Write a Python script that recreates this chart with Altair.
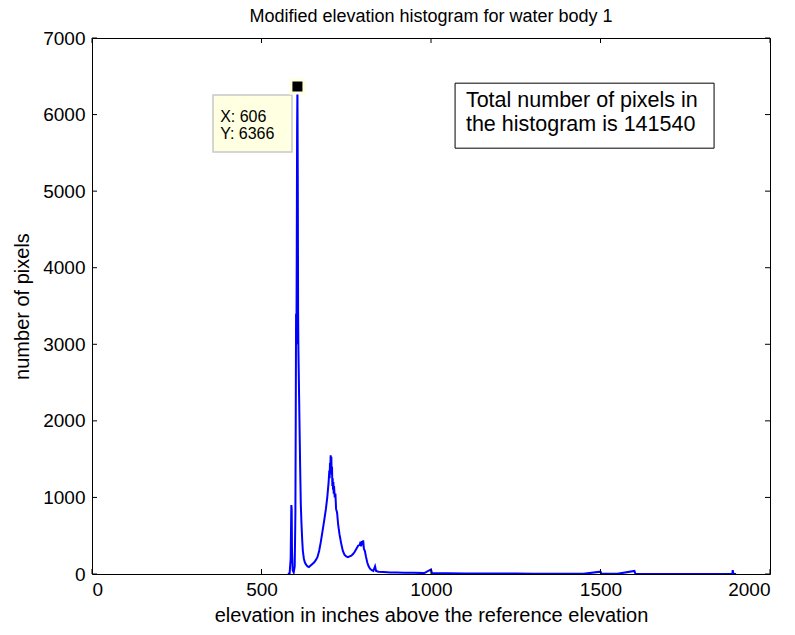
import altair as alt
import pandas as pd

# histogram key points
elev = [578, 583, 586, 588, 589, 590, 592, 595, 598, 600, 601, 602, 603, 604, 605, 606,
        607, 608, 609, 610, 611, 612, 613, 614, 615, 616, 618, 620, 622, 625, 628, 632,
        636, 640, 645, 650, 655, 660, 665, 670, 675, 680, 685, 690, 694, 697, 698, 700,
        701, 702, 703, 704, 705, 706, 707, 708, 709, 710, 711, 712, 713, 714, 716, 718,
        720, 723, 726, 730, 735, 740, 745, 750, 755, 760, 765, 770, 775, 780, 785, 790,
        792, 794, 796, 798, 800, 802, 805, 808, 812, 816,
        820, 825, 830, 835, 838, 845, 860, 880, 900, 920, 950, 980, 1000, 1003, 1050,
        1100, 1150, 1200, 1250, 1300, 1350, 1400, 1450, 1500, 1503, 1550, 1600, 1603,
        1650, 1700, 1800, 1889, 1890, 1892, 1900]
counts = [0, 10, 200, 900, 850, 300, 50, 20, 100, 800, 2000, 3400, 3000, 4200, 5800, 6366,
          5200, 3400, 2900, 2600, 2300, 2000, 1700, 1400, 1150, 900, 650, 450, 300, 200, 150, 120,
          100, 90, 110, 130, 150, 180, 220, 300, 420, 560, 700, 850, 1000, 1150, 1200, 1350,
          1250, 1450, 1400, 1550, 1480, 1530, 1300, 1400, 1150, 1250, 1100, 1200, 1050, 1150, 1000, 1050,
          850, 800, 650, 520, 400, 300, 250, 230, 220, 230, 240, 260, 290, 330, 370, 380,
          420, 360, 430, 380, 440, 330, 300, 230, 150, 100,
          70, 50, 40, 100, 40, 30, 25, 20, 20, 15, 15, 12, 60, 10, 10,
          8, 6, 6, 5, 4, 3, 2, 2, 30, 2, 2, 40, 1,
          1, 1, 1, 1, 50, 0, 0]

x_ticks = [0, 500, 1000, 1500, 2000]
y_ticks = [0, 1000, 2000, 3000, 4000, 5000, 6000, 7000]

title_text = "Modified elevation histogram for water body 1"
x_title = "elevation in inches above the reference elevation"
y_title = "number of pixels"
box_lines = ["Total number of pixels in", "the histogram is 141540"]
tip_lines = ["X: 606", "Y: 6366"]
peak_x, peak_y = 606, 6366

FONT = "Liberation Sans"
XMAX, YMAX = 2000, 7000
W, H = 678, 536

df = pd.DataFrame({"elev": elev, "count": counts})

xs = alt.Scale(domain=[0, XMAX], nice=False, zero=False)
ys = alt.Scale(domain=[0, YMAX], nice=False, zero=False)

base_x = alt.X("elev:Q", scale=xs,
               axis=alt.Axis(values=x_ticks, title=x_title, ticks=False, domain=False,
                             grid=False, labelPadding=6, titlePadding=6, format="d"))
base_y = alt.Y("count:Q", scale=ys,
               axis=alt.Axis(values=y_ticks, title=y_title, ticks=False, domain=False,
                             grid=False, labelPadding=7, titlePadding=10, format="d"))

line = alt.Chart(df).mark_line(color="#0000FF", strokeWidth=2, clip=True).encode(
    x=base_x, y=base_y)

# inward ticks (approx 5 px long)
tx = XMAX * 5 / W
ty = YMAX * 5 / H
xt_df = pd.DataFrame({"x": x_ticks * 2,
                      "y": [0] * len(x_ticks) + [YMAX] * len(x_ticks),
                      "y2": [ty] * len(x_ticks) + [YMAX - ty] * len(x_ticks)})
yt_df = pd.DataFrame({"y": y_ticks * 2,
                      "x": [0] * len(y_ticks) + [XMAX] * len(y_ticks),
                      "x2": [tx] * len(y_ticks) + [XMAX - tx] * len(y_ticks)})
xticks = alt.Chart(xt_df).mark_rule(color="black", strokeWidth=1).encode(
    x=alt.X("x:Q", scale=xs), y=alt.Y("y:Q", scale=ys), y2="y2:Q")
yticks = alt.Chart(yt_df).mark_rule(color="black", strokeWidth=1).encode(
    y=alt.Y("y:Q", scale=ys), x=alt.X("x:Q", scale=xs), x2="x2:Q")

# annotation text box
box_df = pd.DataFrame({"x": [1071], "x2": [1835], "y": [6410], "y2": [5561]})
box = alt.Chart(box_df).mark_rect(fill="white", stroke="black", strokeWidth=1).encode(
    x=alt.X("x:Q", scale=xs), x2="x2:Q", y=alt.Y("y:Q", scale=ys), y2="y2:Q")
box_txt_df = pd.DataFrame({"x": [1103, 1103], "y": [6180, 5870], "t": box_lines})
box_txt = alt.Chart(box_txt_df).mark_text(align="left", baseline="middle", font=FONT,
                                          fontSize=21.5, color="black").encode(
    x=alt.X("x:Q", scale=xs), y=alt.Y("y:Q", scale=ys), text="t:N")

# data tip
tip_df = pd.DataFrame({"x": [357], "x2": [590], "y": [6256], "y2": [5511]})
tip = alt.Chart(tip_df).mark_rect(fill="#FFFFE1", stroke="#C8C8C8", strokeWidth=1.5).encode(
    x=alt.X("x:Q", scale=xs), x2="x2:Q", y=alt.Y("y:Q", scale=ys), y2="y2:Q")
tip_txt_df = pd.DataFrame({"x": [378, 378], "y": [5970, 5740], "t": tip_lines})
tip_txt = alt.Chart(tip_txt_df).mark_text(align="left", baseline="middle", font=FONT,
                                          fontSize=16, color="black").encode(
    x=alt.X("x:Q", scale=xs), y=alt.Y("y:Q", scale=ys), text="t:N")
pk_df = pd.DataFrame({"x": [peak_x], "y": [peak_y]})
marker = alt.Chart(pk_df).mark_square(size=170, color="black", stroke="#FFFFE1",
                                      strokeWidth=3, opacity=1).encode(
    x=alt.X("x:Q", scale=xs), y=alt.Y("y:Q", scale=ys))

chart = alt.layer(line, xticks, yticks, box, box_txt, tip, tip_txt, marker).properties(
    width=W, height=H,
    title=alt.TitleParams(title_text, font=FONT, fontSize=18, fontWeight="normal",
                          color="black", anchor="middle", frame="group", offset=3),
    autosize=alt.AutoSizeParams(type="none"),
    padding={"left": 92, "top": 38, "right": 25, "bottom": 61},
    background="white",
).configure_view(stroke="black", strokeWidth=1).configure_axis(
    labelFont=FONT, titleFont=FONT, labelFontSize=19, titleFontSize=20,
    labelColor="black", titleColor="black", titleFontWeight="normal")

chart.save("out.html", embed_options={"renderer": "svg", "actions": False})
